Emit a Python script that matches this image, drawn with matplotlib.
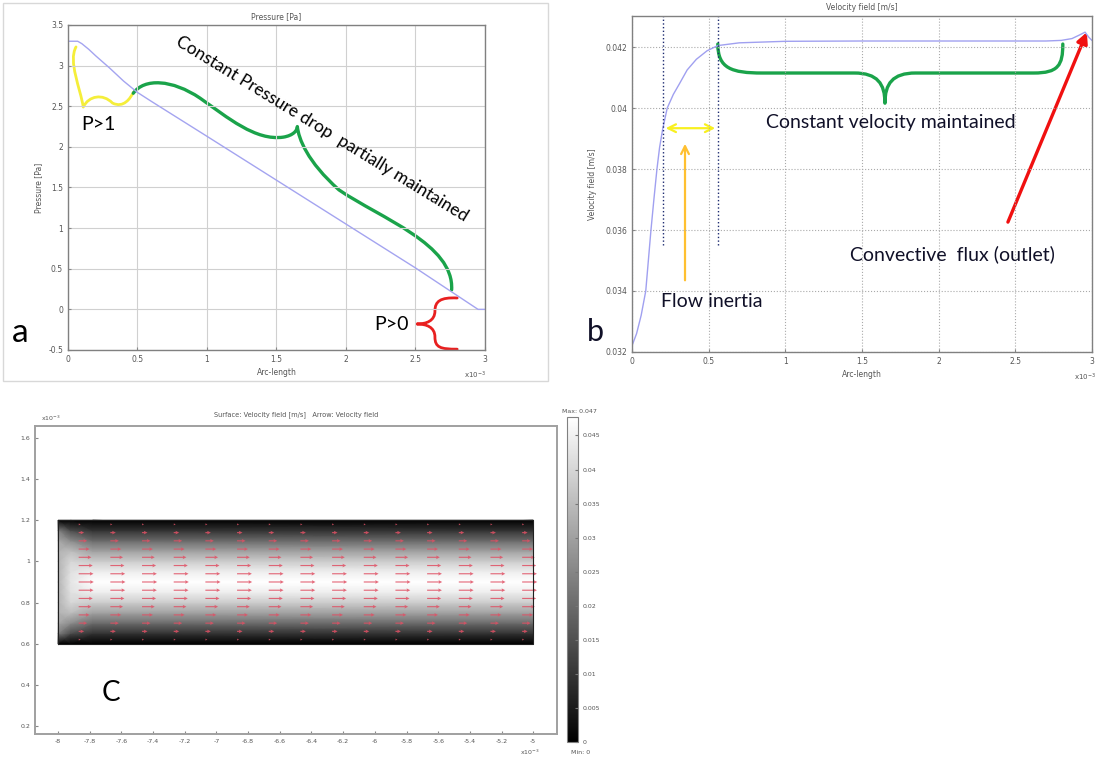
import numpy as np
import matplotlib
matplotlib.use('Agg')
import matplotlib.pyplot as plt
from matplotlib.path import Path
from matplotlib.patches import PathPatch, Rectangle, FancyArrowPatch
from matplotlib.ticker import FuncFormatter

# ---- panel a: pressure along the channel (arc length in 1e-3 m)
arc_p = [0, 0.07, 0.1, 0.15, 0.2, 0.3, 0.4, 0.5, 0.6, 1.0, 1.5, 2.0, 2.5, 2.95, 3.0]
pressure = [3.3, 3.3, 3.27, 3.2, 3.12, 2.97, 2.81, 2.67, 2.56, 2.13, 1.59, 1.05, 0.51, 0.0, 0.0]

# ---- panel b: velocity along the channel
arc_v = [0, 0.03, 0.06, 0.09, 0.107, 0.124, 0.143, 0.163, 0.18, 0.2, 0.23, 0.27, 0.31, 0.36,
         0.42, 0.49, 0.56, 0.7, 1.0, 1.5, 2.0, 2.5, 2.7, 2.8, 2.87, 2.92, 2.955, 2.98, 3.0]
velocity = [0.0322, 0.0326, 0.0332, 0.0340, 0.0350, 0.0360, 0.0370, 0.0380, 0.0387, 0.0393,
            0.0400, 0.04045, 0.0408, 0.04125, 0.0416, 0.04188, 0.04205, 0.04214, 0.04219,
            0.0422, 0.0422, 0.0422, 0.0422, 0.04222, 0.04228, 0.0424, 0.04249, 0.04232, 0.04222]

# ---- panel c: surface velocity (fraction of max) at a few stations along x
field_x = [-8.0, -7.92, -7.78, -5.0]
field_y = [0.6, 0.65, 0.7, 0.75, 0.8, 0.85, 0.9, 0.95, 1.0, 1.05, 1.1, 1.15, 1.2]
prof_inlet = [0, 0.50, 0.66, 0.70, 0.70, 0.70, 0.70, 0.70, 0.70, 0.70, 0.66, 0.50, 0]
prof_mid = [0, 0.30, 0.55, 0.74, 0.84, 0.88, 0.90, 0.88, 0.84, 0.74, 0.55, 0.30, 0]
prof_dev = [0, 0.20, 0.42, 0.63, 0.80, 0.93, 1.0, 0.93, 0.80, 0.63, 0.42, 0.20, 0]
vmax = 0.0477

arrow_x = [-7.87, -7.67, -7.47, -7.27, -7.07, -6.87, -6.67, -6.47,
           -6.27, -6.07, -5.87, -5.67, -5.47, -5.27, -5.07]
arrow_y = [0.62, 0.66, 0.70, 0.74, 0.78, 0.82, 0.86, 0.90, 0.94, 0.98, 1.02, 1.06, 1.10, 1.14, 1.18]
arrow_u = [0.13, 0.36, 0.56, 0.72, 0.84, 0.93, 0.98, 1.0, 0.98, 0.93, 0.84, 0.72, 0.56, 0.36, 0.13]

cbar_ticks = [0, 0.005, 0.01, 0.015, 0.02, 0.025, 0.03, 0.035, 0.04, 0.045]

# hand drawn braces: start point then cubic segments (c1, c2, end) or lines (end,)
brace_yellow = [(0.058, 3.23),
                [(0.0, 3.05), (0.09, 2.72), (0.11, 2.49)],
                [(0.15, 2.63), (0.25, 2.66), (0.32, 2.54)],
                [(0.40, 2.47), (0.45, 2.60), (0.47, 2.67)]]
brace_green_a = [(0.47, 2.66),
                 [(0.55, 2.85), (0.75, 2.83), (0.95, 2.60)],
                 [(1.15, 2.36), (1.35, 2.07), (1.55, 2.12)],
                 [(1.62, 2.14), (1.65, 2.20), (1.65, 2.25)],
                 [(1.66, 2.10), (1.72, 1.82), (1.95, 1.47)],
                 [(2.25, 1.12), (2.78, 0.80), (2.76, 0.24)]]
brace_red = [(2.80, 0.14),
             [(2.68, 0.15), (2.64, 0.10), (2.64, -0.02)],
             [(2.64, -0.14), (2.58, -0.18), (2.51, -0.18)],
             [(2.58, -0.18), (2.64, -0.22), (2.64, -0.34)],
             [(2.64, -0.47), (2.68, -0.49), (2.80, -0.49)]]
brace_green_b = [(0.56, 0.0421),
                 [(0.56, 0.0413), (0.65, 0.04115), (0.85, 0.04115)],
                 [(1.45, 0.04115)],
                 [(1.60, 0.04115), (1.65, 0.0408), (1.65, 0.04016)],
                 [(1.65, 0.0408), (1.70, 0.04115), (1.85, 0.04115)],
                 [(2.62, 0.04115)],
                 [(2.78, 0.04115), (2.81, 0.0414), (2.81, 0.0421)]]


def draw_brace(ax, spec, color, lw):
    verts = [spec[0]]
    codes = [Path.MOVETO]
    for seg in spec[1:]:
        verts += seg
        codes += [Path.LINETO] if len(seg) == 1 else [Path.CURVE4] * 3
    ax.add_patch(PathPatch(Path(verts, codes), fill=False, ec=color, lw=lw,
                           capstyle='round', joinstyle='round', clip_on=False))


def style(ax):
    for s in ax.spines.values():
        s.set_color('#808080')
        s.set_linewidth(1.0)
    ax.tick_params(labelsize=5.5, labelcolor='#555555', color='#888888',
                   length=2, direction='in')


gfmt = FuncFormatter(lambda v, p: '%g' % round(v, 4))
ann_font = 'Lato'
small = dict(fontsize=5.5, color='#555555')

fig = plt.figure(figsize=(10.96, 7.62), dpi=100)

# frame round panel a
fig.add_artist(Rectangle((3 / 1096, 1 - 381 / 762), 545 / 1096, 378 / 762,
                         transform=fig.transFigure, fill=False, ec='#d8d8d8', lw=1))

# ================= panel a
ax = fig.add_axes([0.0620, 0.5407, 0.3805, 0.4265])
style(ax)
ax.plot(arc_p, pressure, color='#a4a4f0', lw=1.0)
ax.set_xlim(0, 3)
ax.set_ylim(-0.5, 3.5)
ax.set_xticks(np.arange(0, 3.01, 0.5))
ax.set_yticks(np.arange(-0.5, 3.51, 0.5))
ax.xaxis.set_major_formatter(gfmt)
ax.yaxis.set_major_formatter(gfmt)
ax.grid(True, color='#d0d0d0', lw=0.8)
ax.set_title('Pressure [Pa]', pad=4, **small)
ax.set_xlabel('Arc-length', labelpad=3, **small)
ax.set_ylabel('Pressure [Pa]', labelpad=4, **small)
ax.text(0.976, -0.077, r'x10$^{-3}$', transform=ax.transAxes, ha='center', va='center', fontsize=5, color='#555555')

draw_brace(ax, brace_yellow, '#f5ee3a', 2.0)
draw_brace(ax, brace_green_a, '#1aa34a', 2.4)
draw_brace(ax, brace_red, '#e82020', 2.0)
ax.text(0.216, 2.28, 'P>1', fontsize=14, family=ann_font, ha='center', va='center')
ax.text(2.33, -0.19, 'P>0', fontsize=14, family=ann_font, ha='center', va='center')
ax.text(1.83, 2.22, 'Constant Pressure drop  partially maintained', fontsize=12.5,
        family=ann_font, rotation=-31.5, rotation_mode='anchor', ha='center', va='center')
fig.text(20 / 1096, 1 - 333 / 762, 'a', fontsize=24, family=ann_font, ha='center', va='center')

# ================= panel b
ax = fig.add_axes([0.5766, 0.5381, 0.4197, 0.4409])
style(ax)
ax.plot(arc_v, velocity, color='#a0a0f0', lw=1.0)
ax.set_xlim(0, 3)
ax.set_ylim(0.032, 0.04302)
ax.set_xticks(np.arange(0, 3.01, 0.5))
ax.set_yticks([0.032, 0.034, 0.036, 0.038, 0.040, 0.042])
ax.xaxis.set_major_formatter(gfmt)
ax.yaxis.set_major_formatter(gfmt)
ax.grid(True, color='#aaaaaa', lw=0.8, ls=':')
ax.set_title('Velocity field [m/s]', pad=4, **small)
ax.set_xlabel('Arc-length', labelpad=3, **small)
ax.set_ylabel('Velocity field [m/s]', labelpad=6, **small)
ax.text(0.985, -0.077, r'x10$^{-3}$', transform=ax.transAxes, ha='center', va='center', fontsize=5, color='#555555')

for xv in (0.202, 0.561):
    ax.plot([xv, xv], [0.0355, 0.04302], color='#1c2a70', lw=1.0, ls=':')
ax.add_patch(FancyArrowPatch((0.202, 0.03934), (0.561, 0.03934), arrowstyle='<->',
                             mutation_scale=14, color='#f8f020', lw=1.6))
ax.add_patch(FancyArrowPatch((0.346, 0.03426), (0.346, 0.03892), arrowstyle='->',
                             mutation_scale=14, color='#ffc030', lw=1.6))
ax.add_patch(FancyArrowPatch((2.452, 0.03626), (2.967, 0.04249), arrowstyle='-|>',
                             mutation_scale=16, color='#f01010', lw=2.4, shrinkA=0, shrinkB=0))
draw_brace(ax, brace_green_b, '#1aa34a', 2.4)
ax.text(1.69, 0.03954, 'Constant velocity maintained', fontsize=14, family=ann_font,
        ha='center', va='center', color='#101028')
ax.text(0.52, 0.03367, 'Flow inertia', fontsize=14, family=ann_font,
        ha='center', va='center', color='#101028')
ax.text(2.09, 0.03521, 'Convective  flux (outlet)', fontsize=14, family=ann_font,
        ha='center', va='center', color='#101028')
fig.text(595 / 1096, 1 - 332 / 762, 'b', fontsize=22, family=ann_font, ha='center', va='center',
         color='#101028')

# ================= panel c
ax = fig.add_axes([0.0319, 0.0367, 0.4763, 0.4042])
style(ax)
ax.tick_params(labelsize=4.5)
for s in ax.spines.values():
    s.set_color('#a0a0a0')
    s.set_linewidth(1.4)
FX, FY = np.meshgrid(field_x, field_y)
V = np.column_stack([prof_inlet, prof_mid, prof_dev, prof_dev]) * vmax
mesh = ax.pcolormesh(FX, FY, V, shading='gouraud', cmap='gray', vmin=0, vmax=vmax)
ax.plot([-8, -5, -5, -8, -8], [0.6, 0.6, 1.2, 1.2, 0.6], color='#202020', lw=0.8)
AX, AY = np.meshgrid(arrow_x, arrow_y)
AU = np.tile(np.array(arrow_u)[:, None], (1, len(arrow_x))) * vmax
ax.quiver(AX, AY, AU, np.zeros_like(AU), color='#e05064', alpha=0.85, angles='xy',
          scale_units='xy', scale=0.5, width=0.0022, headwidth=3.2, headlength=3.2,
          headaxislength=2.8)
ax.set_xlim(-8.146, -4.85)
ax.set_ylim(0.161, 1.658)
ax.set_xticks([-8, -7.8, -7.6, -7.4, -7.2, -7, -6.8, -6.6, -6.4, -6.2, -6, -5.8, -5.6, -5.4, -5.2, -5])
ax.set_yticks([0.2, 0.4, 0.6, 0.8, 1.0, 1.2, 1.4, 1.6])
ax.xaxis.set_major_formatter(gfmt)
ax.yaxis.set_major_formatter(gfmt)
ax.set_title('Surface: Velocity field [m/s]   Arrow: Velocity field', pad=7, fontsize=4.8, color='#555555')
ax.text(0.012, 1.01, r'x10$^{-3}$', transform=ax.transAxes, ha='left', va='bottom', fontsize=4.5, color='#555555')
ax.text(0.948, -0.058, r'x10$^{-3}$', transform=ax.transAxes, ha='center', va='center', fontsize=4.5, color='#555555')
fig.text(111 / 1096, 1 - 693 / 762, 'C', fontsize=20, family=ann_font, ha='center', va='center')

cax = fig.add_axes([0.5173, 0.0262, 0.0100, 0.4265])
cb = fig.colorbar(mesh, cax=cax, ticks=cbar_ticks)
cb.ax.yaxis.set_major_formatter(gfmt)
cb.ax.tick_params(labelsize=4.5, labelcolor='#555555', color='#777777', length=2, direction='in')
cb.outline.set_edgecolor('#808080')
fig.text(579 / 1096, 1 - 411 / 762, 'Max: 0.047', fontsize=4.5, color='#555555', ha='center', va='center')
fig.text(581 / 1096, 1 - 752 / 762, 'Min: 0', fontsize=4.5, color='#555555', ha='center', va='center')

fig.savefig('out.png', dpi=100, facecolor='white')
